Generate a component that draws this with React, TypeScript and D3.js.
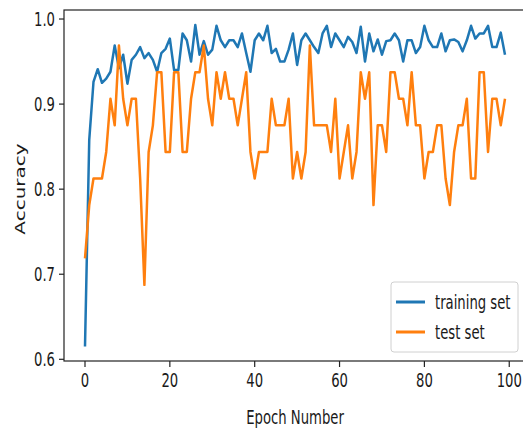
import React from 'react';
import * as d3 from 'd3';

// accuracy per epoch
const trainAcc = [
  0.615, 0.858, 0.926, 0.941, 0.925, 0.930, 0.938, 0.969, 0.942, 0.958,
  0.924, 0.952, 0.958, 0.967, 0.954, 0.960, 0.952, 0.938, 0.960, 0.965,
  0.977, 0.940, 0.940, 0.983, 0.975, 0.950, 0.993, 0.958, 0.974, 0.958,
  0.964, 0.992, 0.975, 0.967, 0.975, 0.975, 0.967, 0.983, 0.960, 0.938,
  0.975, 0.983, 0.975, 0.992, 0.960, 0.965, 0.950, 0.950, 0.964, 0.983,
  0.946, 0.975, 0.983, 0.975, 0.967, 0.960, 0.983, 0.992, 0.967, 0.983,
  0.975, 0.967, 0.979, 0.973, 0.960, 0.991, 0.950, 0.983, 0.962, 0.976,
  0.958, 0.974, 0.975, 0.983, 0.975, 0.950, 0.975, 0.975, 0.960, 0.967,
  0.992, 0.975, 0.967, 0.967, 0.983, 0.962, 0.975, 0.976, 0.973, 0.962,
  0.975, 0.992, 0.977, 0.983, 0.983, 0.992, 0.967, 0.967, 0.984, 0.958,
];

// test accuracy: correct answers out of 32
const testCorrect = [
  23, 25, 26, 26, 26, 27, 29, 28, 31, 29,
  28, 29, 29, 26, 22, 27, 28, 30, 30, 27,
  27, 30, 30, 27, 27, 29, 30, 30, 31, 29,
  28, 30, 29, 30, 29, 29, 28, 29, 30, 27,
  26, 27, 27, 27, 29, 28, 28, 28, 29, 26,
  27, 26, 27, 31, 28, 28, 28, 28, 27, 29,
  26, 27, 28, 26, 27, 30, 29, 30, 25, 28,
  28, 27, 30, 30, 29, 29, 28, 30, 28, 28,
  26, 27, 27, 28, 28, 26, 25, 27, 28, 28,
  29, 26, 26, 30, 30, 27, 29, 29, 28, 29,
];
const testSize = 32;

const xTicks = [0, 20, 40, 60, 80, 100];
const yTicks = [0.6, 0.7, 0.8, 0.9, 1.0];
const seriesNames = ['training set', 'test set'];
const colors = ['#1f77b4', '#ff7f0e'];

const W = 523;
const H = 430;
const left = 64;
const right = 526;
const top = 10;
const bottom = 361;
const sx = 0.66; // the picture is squeezed sideways
const fontSize = 20;

export default function App() {
  const x = d3.scaleLinear().domain([-4.95, 103.95]).range([left, right]);
  const y = d3.scaleLinear().domain([0.598, 1.0106]).range([bottom, top]);

  const testAcc = testCorrect.map((c) => c / testSize);
  const line = d3
    .line<number>()
    .x((_, i) => x(i))
    .y((d) => y(d));

  const txt = (px: number, py: number, s: string, anchor: string, rot = false) => (
    <text
      key={s + px + py}
      transform={`translate(${px},${py}) scale(${sx},1)${rot ? ' rotate(-90)' : ''}`}
      textAnchor={anchor}
      fontSize={fontSize}
      fill="#1a1a1a"
    >
      {s}
    </text>
  );

  const lx = 391;
  const ly = 282;

  return (
    <svg
      width={W}
      height={H}
      style={{ position: 'absolute', left: 0, top: 0, background: '#fff', fontFamily: 'DejaVu Sans' }}
    >
      <defs>
        <clipPath id="plot">
          <rect x={left} y={top} width={right - left} height={bottom - top} />
        </clipPath>
      </defs>

      <g clipPath="url(#plot)" fill="none" strokeWidth={2.5} strokeLinejoin="round">
        <path d={line(trainAcc) ?? ''} stroke={colors[0]} />
        <path d={line(testAcc) ?? ''} stroke={colors[1]} />
      </g>

      {/* spines */}
      <rect x={left} y={top} width={right - left} height={bottom - top} fill="none" stroke="#222" strokeWidth={1.2} />

      {/* y axis */}
      {yTicks.map((t) => (
        <g key={'y' + t}>
          <line x1={left - 5} x2={left} y1={y(t)} y2={y(t)} stroke="#222" strokeWidth={1.2} />
          {txt(left - 9, y(t) + 7, t.toFixed(1), 'end')}
        </g>
      ))}

      {/* x axis */}
      {xTicks.map((t) => (
        <g key={'x' + t}>
          <line x1={x(t)} x2={x(t)} y1={bottom} y2={bottom + 6} stroke="#222" strokeWidth={1.2} />
          {txt(x(t), 387, String(t), 'middle')}
        </g>
      ))}

      {txt(295, 424, 'Epoch Number', 'middle')}
      {txt(25, 189, 'Accuracy', 'middle', true)}

      {/* legend */}
      <rect x={lx} y={ly} width={127} height={70} rx={3} fill="#fff" fillOpacity={0.8} stroke="#d0d0d0" />
      {seriesNames.map((name, i) => (
        <g key={name}>
          <line x1={lx + 5} x2={lx + 34} y1={ly + 20 + i * 30} y2={ly + 20 + i * 30} stroke={colors[i]} strokeWidth={3} />
          {txt(lx + 44, ly + 27 + i * 30, name, 'start')}
        </g>
      ))}
    </svg>
  );
}
